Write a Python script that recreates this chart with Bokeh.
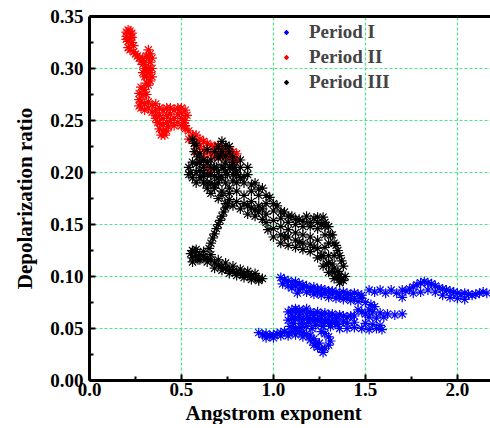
from bokeh.plotting import figure
from bokeh.models import (FixedTicker, LinearAxis, Legend, LegendItem, Title,
                          Range1d, NumeralTickFormatter)
from bokeh.embed import file_html
from bokeh.resources import INLINE

# ---------------- data ----------------
x_ticks = [0.0, 0.5, 1.0, 1.5, 2.0]
x_minor = [0.25, 0.75, 1.25, 1.75]
y_ticks = [0.00, 0.05, 0.10, 0.15, 0.20, 0.25, 0.30, 0.35]
y_minor = [0.025, 0.075, 0.125, 0.175, 0.225, 0.275, 0.325]
series_names = ["Period I", "Period II", "Period III"]
series_colors = ["#0000ff", "#ff0000", "#000000"]

# Period I (blue)
p1_upper = [(1.04, .099), (1.05, .093), (1.06, .097), (1.08, .096), (1.08, .091), (1.10, .094),
            (1.12, .095), (1.14, .093), (1.16, .092), (1.18, .091), (1.20, .089), (1.22, .090),
            (1.24, .088), (1.26, .088), (1.28, .087), (1.30, .086), (1.32, .086), (1.34, .085),
            (1.36, .084), (1.38, .085), (1.40, .084), (1.42, .083), (1.44, .084), (1.46, .083),
            (1.48, .082),
            (1.10, .089), (1.14, .087), (1.18, .085), (1.22, .083), (1.26, .082), (1.30, .080),
            (1.34, .079), (1.38, .078), (1.42, .077), (1.46, .076), (1.50, .075), (1.53, .073),
            (1.12, .091), (1.16, .089), (1.20, .086), (1.24, .085), (1.28, .084), (1.32, .083),
            (1.36, .081), (1.40, .080), (1.44, .079), (1.48, .079),
            (1.13, .084)]
p1_arrow = [(1.55, .071), (1.52, .068), (1.48, .066), (1.46, .068), (1.50, .064), (1.54, .066),
            (1.58, .065), (1.62, .064), (1.66, .063), (1.70, .064), (1.44, .062), (1.52, .061),
            (1.56, .060), (1.60, .061)]
p1_scatter = [(1.52, .087), (1.55, .085), (1.58, .087), (1.61, .084), (1.64, .087), (1.67, .084),
              (1.70, .087)]
p1_hump = [(1.72, .086), (1.74, .088), (1.76, .090), (1.78, .092), (1.80, .094), (1.82, .095),
           (1.84, .094), (1.86, .093), (1.88, .091), (1.90, .089), (1.92, .088), (1.94, .087),
           (1.96, .086), (1.98, .085), (2.00, .084), (2.02, .083), (2.04, .084), (2.06, .083),
           (2.08, .082), (2.10, .083), (2.12, .084), (2.14, .085), (2.16, .084),
           (1.70, .080), (1.76, .084), (1.80, .085), (1.84, .087), (1.88, .085), (1.92, .082),
           (1.96, .080), (2.00, .079), (2.04, .078)]
p1_middle = [(1.08, .066), (1.10, .068), (1.12, .069), (1.14, .068), (1.16, .067), (1.18, .069),
             (1.20, .066), (1.22, .065), (1.24, .066), (1.26, .064), (1.28, .065), (1.30, .063),
             (1.32, .064), (1.34, .062), (1.36, .063), (1.38, .062), (1.40, .061), (1.42, .062),
             (1.08, .058), (1.10, .060), (1.12, .059), (1.14, .061), (1.16, .058), (1.18, .060),
             (1.20, .059), (1.22, .057), (1.24, .058), (1.26, .056), (1.28, .057), (1.30, .055),
             (1.32, .056), (1.34, .054),
             (1.10, .064), (1.14, .064), (1.18, .064), (1.22, .061), (1.26, .060), (1.30, .059),
             (1.34, .058), (1.38, .057), (1.40, .055), (1.11, .055), (1.15, .055), (1.19, .056),
             (1.23, .053), (1.27, .052), (1.31, .052), (1.35, .054), (1.44, .056), (1.50, .055),
             (1.54, .054), (1.58, .053),
             (1.09, .052), (1.12, .050), (1.15, .051), (1.18, .052), (1.21, .050), (1.36, .050),
             (1.40, .050), (1.44, .051), (1.48, .050), (1.52, .049), (1.56, .050), (1.59, .049)]
p1_lower = [(0.92, .046), (0.94, .044), (0.96, .045), (0.98, .043), (1.00, .044), (1.02, .045),
            (1.04, .046), (1.06, .047), (1.08, .046), (1.10, .047), (1.12, .048), (1.14, .047),
            (1.16, .046), (1.18, .045), (1.20, .043), (1.22, .040), (1.23, .036), (1.24, .032),
            (1.26, .030), (1.28, .031), (1.30, .034), (1.31, .038), (1.30, .042), (1.28, .045),
            (1.26, .047), (1.25, .036), (1.27, .027), (1.22, .034),
            (0.96, .041), (1.00, .041), (1.04, .043), (1.08, .043), (1.12, .044), (1.16, .042),
            (1.20, .039)]

# Period II (red)
p2_top = [(0.20, .335), (0.21, .337), (0.22, .336), (0.23, .334), (0.20, .328), (0.21, .326),
          (0.22, .329), (0.23, .325), (0.24, .322), (0.21, .320), (0.22, .318), (0.24, .316),
          (0.20, .331), (0.23, .330)]
p2_column = [(0.25, .314), (0.26, .312), (0.27, .310), (0.28, .307), (0.29, .304), (0.30, .300),
             (0.31, .298), (0.32, .318), (0.33, .314), (0.33, .306), (0.34, .300), (0.34, .292),
             (0.33, .288), (0.32, .284), (0.30, .292), (0.31, .286), (0.30, .280), (0.29, .275),
             (0.31, .275), (0.28, .282), (0.27, .276), (0.27, .270), (0.27, .264),
             (0.32, .310), (0.32, .300), (0.33, .296), (0.30, .306), (0.31, .312),
             (0.29, .310), (0.29, .296), (0.34, .310), (0.31, .293)]
p2_band = [(0.28, .268), (0.30, .266), (0.32, .268), (0.34, .265), (0.36, .266), (0.38, .262),
           (0.40, .260), (0.42, .262), (0.44, .256), (0.46, .260), (0.48, .262), (0.50, .262),
           (0.52, .260), (0.53, .255), (0.52, .250), (0.50, .252), (0.48, .248), (0.46, .245),
           (0.44, .250), (0.40, .252), (0.38, .255),
           (0.37, .248), (0.38, .242), (0.40, .240), (0.42, .240), (0.40, .246), (0.42, .248),
           (0.36, .252), (0.30, .260), (0.34, .258), (0.36, .260), (0.42, .255), (0.46, .252),
           (0.50, .257), (0.52, .245), (0.39, .236), (0.41, .236),
           (0.28, .262), (0.32, .262), (0.36, .255), (0.44, .262), (0.48, .256), (0.51, .248),
           (0.43, .244), (0.38, .248)]
p2_diag = [(0.50, .245), (0.54, .240), (0.58, .236), (0.60, .232), (0.62, .230), (0.64, .228),
           (0.66, .226), (0.68, .225), (0.70, .226), (0.72, .224), (0.74, .222), (0.76, .222),
           (0.78, .220), (0.56, .236), (0.57, .228), (0.58, .220), (0.60, .210), (0.62, .215),
           (0.64, .205), (0.66, .200), (0.60, .225), (0.68, .215), (0.72, .215), (0.76, .215),
           (0.80, .212), (0.52, .242), (0.56, .232), (0.62, .222), (0.66, .218), (0.70, .218),
           (0.74, .218), (0.78, .212),
           (0.54, .232), (0.58, .228), (0.64, .220), (0.68, .222), (0.72, .220), (0.76, .218),
           (0.80, .218)]

# Period III (black)
p3_top = [(0.56, .232), (0.58, .226), (0.57, .220), (0.59, .215), (0.60, .210), (0.62, .205),
          (0.64, .210), (0.66, .212), (0.68, .220), (0.70, .225), (0.72, .230), (0.74, .226),
          (0.76, .220), (0.78, .215), (0.79, .205), (0.80, .198), (0.78, .192),
          (0.54, .205), (0.55, .200), (0.56, .195), (0.58, .200), (0.60, .195), (0.62, .190),
          (0.64, .185), (0.66, .180), (0.68, .185), (0.70, .190), (0.72, .195), (0.74, .190),
          (0.76, .185), (0.69, .205), (0.73, .205), (0.71, .216),
          (0.56, .210), (0.58, .208), (0.60, .202), (0.62, .196), (0.66, .190), (0.70, .200),
          (0.74, .210), (0.76, .205), (0.78, .198), (0.58, .190), (0.54, .198), (0.57, .228),
          (0.66, .205), (0.72, .220), (0.76, .225), (0.80, .190), (0.82, .195),
          (0.60, .218), (0.62, .212), (0.64, .198), (0.68, .196), (0.68, .205), (0.72, .205),
          (0.75, .198), (0.64, .222), (0.70, .214), (0.74, .215), (0.78, .210), (0.82, .212),
          (0.86, .205)]
p3_band = [(0.62, .200), (0.66, .198), (0.70, .195), (0.74, .200), (0.78, .205), (0.82, .205),
           (0.86, .198), (0.90, .190), (0.94, .185), (0.98, .176), (1.02, .168), (1.06, .162),
           (1.10, .158), (1.14, .155), (1.18, .158), (1.22, .156), (1.24, .157), (1.27, .157),
           (1.30, .148), (1.32, .140), (1.34, .130), (1.36, .120), (1.38, .110), (1.39, .100),
           (0.64, .190), (0.68, .188), (0.72, .182), (0.76, .180), (0.80, .182), (0.84, .178),
           (0.88, .172), (0.92, .168), (0.96, .160), (1.00, .154), (1.04, .148), (1.08, .145),
           (1.12, .142), (1.16, .140), (1.20, .138), (1.24, .135), (1.28, .128), (1.30, .120),
           (1.32, .112), (1.35, .105), (1.37, .097),
           (0.70, .175), (0.74, .170), (0.78, .168), (0.82, .165), (0.86, .160), (0.90, .158),
           (0.94, .155), (0.97, .145), (1.00, .138), (1.04, .132), (1.08, .130), (1.12, .128),
           (1.16, .126), (1.20, .124), (1.24, .118), (1.27, .110), (1.30, .104), (1.33, .098),
           (1.36, .094),
           (0.84, .190), (0.88, .182), (0.92, .178), (0.96, .170), (1.00, .163), (1.04, .156),
           (1.08, .152), (1.12, .150), (1.16, .148), (1.20, .148), (1.24, .146), (1.28, .140),
           (1.30, .132), (1.33, .120), (0.86, .168), (0.90, .164), (0.94, .165), (1.06, .138),
           (1.14, .133), (1.22, .128), (1.26, .120), (1.29, .112), (1.32, .104), (1.36, .102),
           (1.38, .096), (1.26, .150), (1.28, .152),
           (0.80, .200), (0.84, .196), (0.88, .188), (0.92, .184), (0.96, .178), (1.00, .170),
           (1.04, .162), (1.08, .158), (1.12, .155), (1.16, .153), (1.20, .152), (1.24, .152),
           (1.28, .148), (1.31, .140), (1.33, .132), (1.35, .125), (1.37, .115),
           (0.72, .178), (0.76, .174), (0.80, .172), (0.84, .170), (0.88, .166), (0.92, .162),
           (0.96, .152), (1.00, .146), (1.04, .140), (1.08, .138), (1.12, .135), (1.16, .132),
           (1.20, .131), (1.24, .127), (1.27, .120), (1.30, .113), (1.33, .108), (1.35, .100)]
p3_chain = [(0.65, .127), (0.66, .132), (0.67, .137), (0.68, .141), (0.69, .146), (0.70, .150),
            (0.71, .154), (0.72, .158), (0.73, .162), (0.74, .166), (0.75, .170)]
p3_lower = [(0.55, .122), (0.56, .118), (0.57, .124), (0.58, .120), (0.60, .121), (0.62, .119),
            (0.64, .118), (0.66, .116), (0.68, .113), (0.70, .111), (0.72, .110), (0.74, .108),
            (0.76, .107), (0.78, .105), (0.80, .104), (0.82, .103), (0.84, .102), (0.86, .101),
            (0.88, .100), (0.90, .099), (0.92, .098), (0.94, .098), (0.56, .125), (0.59, .116),
            (0.56, .114), (0.60, .116), (0.64, .114), (0.68, .108), (0.72, .106), (0.76, .103),
            (0.80, .101), (0.84, .099), (0.88, .097), (0.92, .096), (0.58, .126), (0.62, .124),
            (0.66, .121), (0.70, .116), (0.74, .113), (0.78, .110), (0.82, .107), (0.86, .105),
            (0.90, .103)]

series_points = [
    p1_upper + p1_arrow + p1_scatter + p1_hump + p1_middle + p1_lower,
    p2_top + p2_column + p2_band + p2_diag,
    p3_top + p3_band + p3_chain + p3_lower,
]

# ---------------- figure ----------------
FONT = "Liberation Serif"

p = figure(frame_width=401, frame_height=364,
           min_border_left=89, min_border_right=0, min_border_top=16, min_border_bottom=0,
           x_range=Range1d(0, 2.18), y_range=Range1d(0, 0.35),
           output_backend="svg", toolbar_location=None,
           background_fill_color="white", border_fill_color="white")
p.outline_line_color = None

# grid (green dashed)
p.xgrid.ticker = FixedTicker(ticks=x_ticks)
p.ygrid.ticker = FixedTicker(ticks=y_ticks)
p.grid.grid_line_color = "#4fe585"
p.grid.grid_line_dash = "3 2"
p.grid.grid_line_width = 1.2
p.grid.grid_line_alpha = 1.0

renderers = []
for pts, col in zip(series_points, series_colors):
    xs = [a for a, b in pts]
    ys = [b for a, b in pts]
    r = p.scatter(xs, ys, marker="asterisk", size=10, line_color=col, line_width=1.2)
    renderers.append(r)

# axes
for ax in (p.xaxis[0], p.yaxis[0]):
    ax.axis_line_width = 3
    ax.axis_line_color = "black"
    ax.major_tick_in = 6
    ax.major_tick_out = 0
    ax.minor_tick_in = 4
    ax.minor_tick_out = 0
    ax.major_tick_line_width = 2
    ax.minor_tick_line_width = 2
    ax.major_label_text_font = FONT
    ax.major_label_text_font_style = "bold"
    ax.major_label_text_font_size = "19px"
    ax.major_label_text_color = "black"

p.xaxis[0].ticker = FixedTicker(ticks=x_ticks, minor_ticks=x_minor)
p.yaxis[0].ticker = FixedTicker(ticks=y_ticks, minor_ticks=y_minor)
p.xaxis[0].formatter = NumeralTickFormatter(format="0.0")
p.yaxis[0].formatter = NumeralTickFormatter(format="0.00")
p.xaxis[0].major_label_standoff = 2
p.yaxis[0].major_label_standoff = 6

p.yaxis[0].axis_label = "Depolarization ratio"
p.yaxis[0].axis_label_text_font = FONT
p.yaxis[0].axis_label_text_font_style = "bold"
p.yaxis[0].axis_label_text_font_size = "21px"
p.yaxis[0].axis_label_text_color = "black"
p.yaxis[0].axis_label_standoff = 10

top_axis = LinearAxis(ticker=FixedTicker(ticks=[]), axis_line_width=3, axis_line_color="black",
                      major_tick_line_color=None, minor_tick_line_color=None,
                      major_label_text_font_size="0px", major_label_standoff=0,
                      major_tick_out=0, minor_tick_out=0)
p.add_layout(top_axis, "above")

# x axis title (placed left of centre like the reference)
xtitle = Title(text="Angstrom exponent", align="left", offset=96, standoff=0,
               text_font=FONT, text_font_style="bold", text_font_size="21px",
               text_color="black")
p.add_layout(xtitle, "below")

# legend
items = [LegendItem(label=n, renderers=[r]) for n, r in zip(series_names, renderers)]
legend = Legend(items=items, location=(191, 287), padding=0, margin=0, spacing=3,
                glyph_width=12, glyph_height=20, label_height=20, label_standoff=17,
                label_text_font=FONT, label_text_font_style="bold", label_text_font_size="19px",
                background_fill_alpha=0, border_line_color=None)
p.add_layout(legend)

open("out.html", "w").write(file_html(p, INLINE))
